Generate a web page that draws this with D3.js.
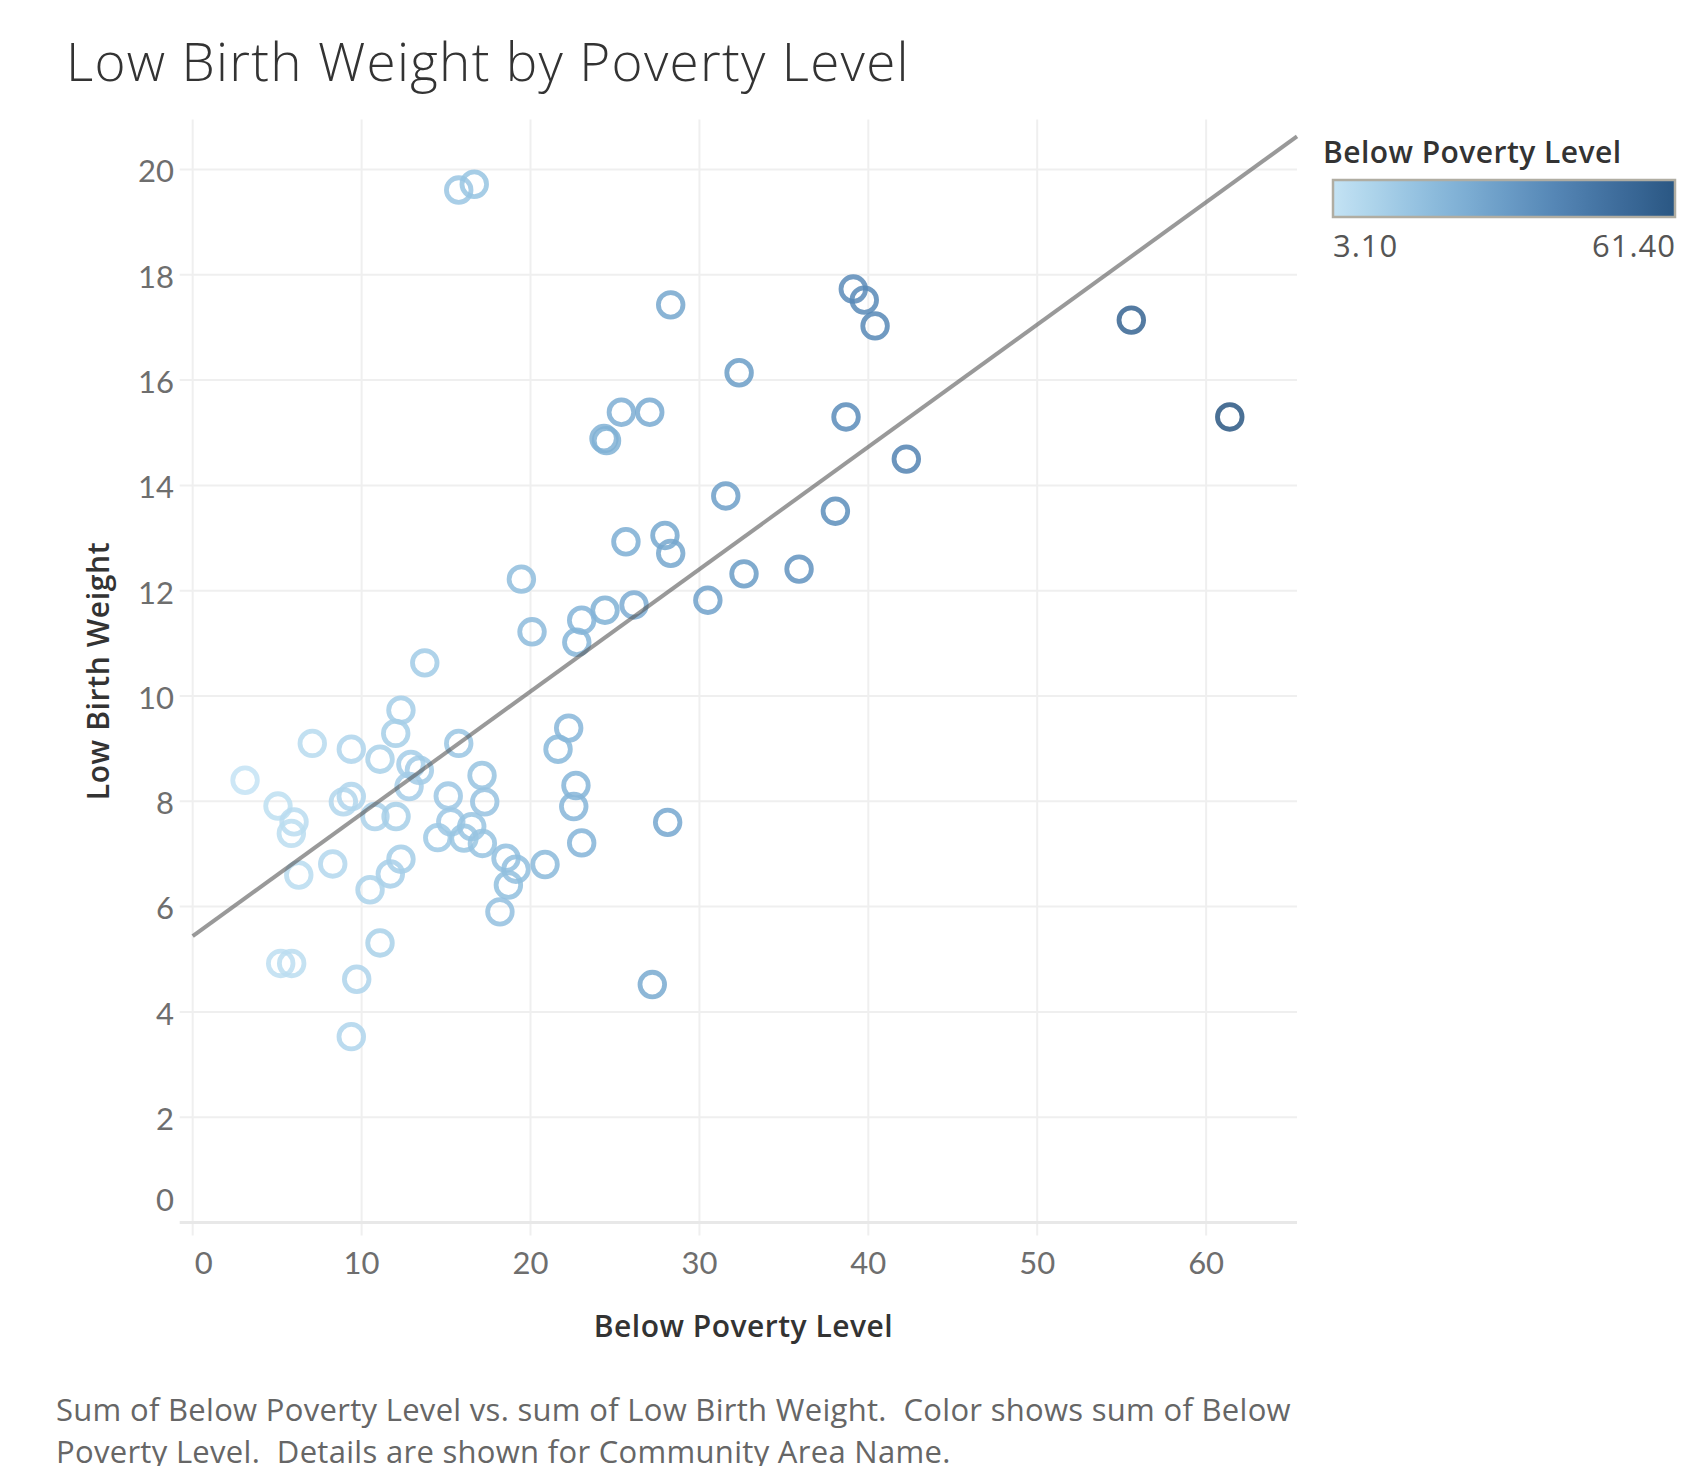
<!DOCTYPE html>
<html>
<head>
<meta charset="utf-8">
<script src="https://cdn.jsdelivr.net/npm/d3@7"></script>
<style>
  body { margin: 0; background: #fff; }
  text { font-family: "Open Sans", Lato, sans-serif; }
  .tick-label { font-family: Lato, "Open Sans", sans-serif; }
</style>
</head>
<body>
<div id="chart"></div>
<script>
// values (one entry per community area)
const povertyLevel = [
  15.75, 16.67, 28.30, 25.38, 27.06, 24.35, 24.50, 39.11, 39.76, 40.40,
  32.35, 55.57, 38.68, 42.25, 31.56, 38.05, 32.64, 35.90, 30.50, 61.40,
  25.65, 27.96, 28.30, 19.46, 24.41, 26.13, 23.03, 22.74, 20.09, 13.74,
  12.33, 12.02, 7.08, 9.39, 11.09, 15.75, 22.26, 21.63, 12.92, 13.42,
  12.81, 17.13, 3.10, 9.39, 8.92, 5.05, 15.13, 17.29, 22.69, 22.56,
  6.00, 5.84, 10.79, 12.04, 15.28, 16.52, 14.51, 16.06, 17.15, 28.12,
  23.03, 18.55, 19.14, 20.86, 18.69, 18.19, 12.33, 11.70, 10.50, 8.29,
  6.28, 11.09, 5.21, 5.86, 9.71, 9.39, 27.21
];
const lowBirthWeight = [
  19.61, 19.72, 17.43, 15.39, 15.39, 14.89, 14.85, 17.73, 17.52, 17.03,
  16.14, 17.14, 15.30, 14.50, 13.80, 13.51, 12.32, 12.41, 11.82, 15.30,
  12.93, 13.05, 12.71, 12.22, 11.63, 11.73, 11.44, 11.02, 11.22, 10.63,
  9.73, 9.29, 9.10, 8.99, 8.80, 9.10, 9.39, 8.99, 8.70, 8.59,
  8.28, 8.49, 8.40, 8.09, 7.99, 7.91, 8.10, 7.99, 8.30, 7.90,
  7.61, 7.39, 7.71, 7.71, 7.61, 7.52, 7.31, 7.30, 7.20, 7.60,
  7.21, 6.92, 6.71, 6.80, 6.41, 5.90, 6.90, 6.62, 6.32, 6.81,
  6.60, 5.31, 4.92, 4.92, 4.62, 3.53, 4.52
];

const xTicks = [0, 10, 20, 30, 40, 50, 60];
const yTicks = [0, 2, 4, 6, 8, 10, 12, 14, 16, 18, 20];

// trend line (linear) as shown in the chart
const trendIntercept = 5.44;
const trendSlope = 0.2323;

const colorStops = ["#c4e3f4", "#93c2e1", "#6a9dc8", "#4777a8", "#2a5783"];

const width = 1703, height = 1466;
const plot = { left: 192.7, right: 1297, top: 119.5, bottom: 1222.5 };

const data = povertyLevel.map((p, i) => ({ x: p, y: lowBirthWeight[i] }));

const svg = d3.select("#chart")
  .append("svg")
  .attr("width", width)
  .attr("height", height)
  .attr("viewBox", [0, 0, width, height]);

const xScale = d3.scaleLinear()
  .domain([0, 65.38])
  .range([plot.left, plot.right]);

const yScale = d3.scaleLinear()
  .domain([0, 20.95])
  .range([plot.bottom, plot.top]);

const color = d3.scaleSequential(d3.interpolateRgbBasis(colorStops))
  .domain(d3.extent(povertyLevel));

// title
svg.append("text")
  .attr("x", 66)
  .attr("y", 81)
  .attr("font-size", "53px")
  .attr("font-weight", 300)
  .attr("letter-spacing", "1.3px")
  .attr("fill", "#333")
  .text("Low Birth Weight by Poverty Level");

// grid lines
svg.append("g")
  .selectAll("line")
  .data(yTicks.filter(d => d > 0))
  .join("line")
    .attr("x1", plot.left - 13)
    .attr("x2", plot.right)
    .attr("y1", d => yScale(d))
    .attr("y2", d => yScale(d))
    .attr("stroke", "#efefef")
    .attr("stroke-width", 2);

svg.append("g")
  .selectAll("line")
  .data(xTicks)
  .join("line")
    .attr("x1", d => xScale(d))
    .attr("x2", d => xScale(d))
    .attr("y1", plot.top)
    .attr("y2", plot.bottom + 13)
    .attr("stroke", "#efefef")
    .attr("stroke-width", 2);

// zero line
svg.append("line")
  .attr("x1", plot.left - 13)
  .attr("x2", plot.right)
  .attr("y1", yScale(0))
  .attr("y2", yScale(0))
  .attr("stroke", "#e8e8e8")
  .attr("stroke-width", 3);

// y axis labels
svg.append("g")
  .selectAll("text")
  .data(yTicks)
  .join("text")
    .attr("class", "tick-label")
    .attr("x", 174)
    .attr("y", d => d === 0 ? yScale(d) - 22 : yScale(d) + 2)
    .attr("dy", "0.35em")
    .attr("text-anchor", "end")
    .attr("font-size", "31px")
    .attr("fill", "#6e6e6e")
    .text(d => d);

// x axis labels
svg.append("g")
  .selectAll("text")
  .data(xTicks)
  .join("text")
    .attr("class", "tick-label")
    .attr("x", d => d === 0 ? xScale(d) + 11 : xScale(d))
    .attr("y", 1263)
    .attr("dy", "0.35em")
    .attr("text-anchor", "middle")
    .attr("font-size", "31px")
    .attr("fill", "#6e6e6e")
    .text(d => d);

// axis titles
svg.append("text")
  .attr("x", 743.5)
  .attr("y", 1337)
  .attr("text-anchor", "middle")
  .attr("font-size", "30px")
  .attr("font-weight", 600)
  .attr("letter-spacing", "0.5px")
  .attr("fill", "#333")
  .text("Below Poverty Level");

svg.append("text")
  .attr("transform", `translate(109,${(plot.top + plot.bottom) / 2}) rotate(-90)`)
  .attr("text-anchor", "middle")
  .attr("font-size", "30px")
  .attr("font-weight", 600)
  .attr("letter-spacing", "0.65px")
  .attr("fill", "#333")
  .text("Low Birth Weight");

// points
svg.append("g")
  .selectAll("circle")
  .data(data)
  .join("circle")
    .attr("cx", d => xScale(d.x))
    .attr("cy", d => yScale(d.y))
    .attr("r", 12.3)
    .attr("fill", "none")
    .attr("stroke", d => color(d.x))
    .attr("stroke-width", 4.8)
    .attr("stroke-opacity", 0.85);

// trend line
const xMax = xScale.domain()[1];
svg.append("line")
  .attr("x1", xScale(0))
  .attr("y1", yScale(trendIntercept))
  .attr("x2", xScale(xMax))
  .attr("y2", yScale(trendIntercept + trendSlope * xMax))
  .attr("stroke", "#555")
  .attr("stroke-opacity", 0.6)
  .attr("stroke-width", 4);

// colour legend
const defs = svg.append("defs");
const grad = defs.append("linearGradient").attr("id", "legend-grad");
grad.selectAll("stop")
  .data(d3.range(0, 1.0001, 0.05))
  .join("stop")
    .attr("offset", d => d)
    .attr("stop-color", d => color(color.domain()[0] + d * (color.domain()[1] - color.domain()[0])));

svg.append("text")
  .attr("x", 1323)
  .attr("y", 163)
  .attr("font-size", "30px")
  .attr("font-weight", 600)
  .attr("letter-spacing", "0.45px")
  .attr("fill", "#333")
  .text("Below Poverty Level");

svg.append("rect")
  .attr("x", 1333)
  .attr("y", 180)
  .attr("width", 342)
  .attr("height", 37)
  .attr("fill", "url(#legend-grad)")
  .attr("stroke", "#b0ada2")
  .attr("stroke-width", 2.5);

const fmt = d3.format(".2f");
svg.append("text")
  .attr("x", 1333)
  .attr("y", 257)
  .attr("font-size", "31px")
  .attr("letter-spacing", "1px")
  .attr("fill", "#555")
  .text(fmt(color.domain()[0]));

svg.append("text")
  .attr("x", 1676)
  .attr("y", 257)
  .attr("text-anchor", "end")
  .attr("font-size", "31px")
  .attr("letter-spacing", "1px")
  .attr("fill", "#555")
  .text(fmt(color.domain()[1]));

// footer caption
const caption = [
  "Sum of Below Poverty Level vs. sum of Low Birth Weight.  Color shows sum of Below",
  "Poverty Level.  Details are shown for Community Area Name."
];
svg.append("g")
  .selectAll("text")
  .data(caption)
  .join("text")
    .attr("x", 56)
    .attr("y", (d, i) => 1421 + i * 42)
    .attr("font-size", "31px")
    .attr("letter-spacing", "0.3px")
    .attr("fill", "#666")
    .attr("xml:space", "preserve")
    .style("white-space", "pre")
    .text(d => d);
</script>
</body>
</html>
